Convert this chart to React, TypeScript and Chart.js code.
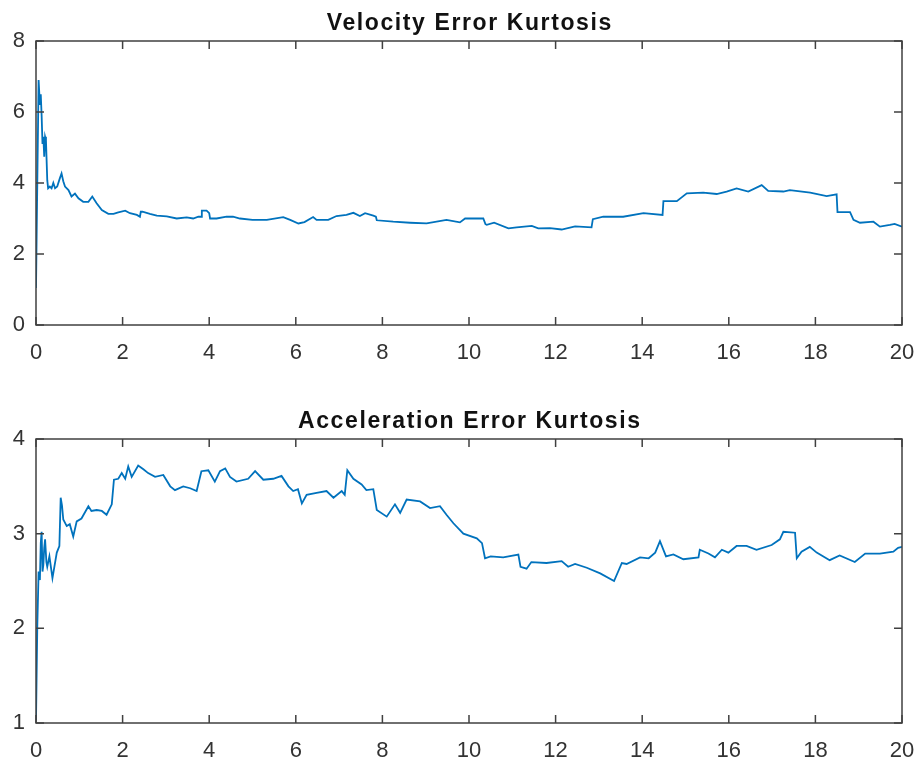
import React, { useEffect, useRef } from "react";
import { Chart, registerables } from "chart.js";

Chart.register(...registerables);

// ---------- data ----------
const xTicks = [0, 2, 4, 6, 8, 10, 12, 14, 16, 18, 20];
const velTicks = [0, 2, 4, 6, 8];
const accTicks = [1, 2, 3, 4];

const velTitle = "Velocity Error Kurtosis";
const accTitle = "Acceleration Error Kurtosis";

const velX = [
  0, 0.03, 0.06, 0.09, 0.11, 0.13, 0.15, 0.17, 0.19, 0.21,
  0.23, 0.26, 0.28, 0.32, 0.36, 0.40, 0.44, 0.49, 0.55, 0.59,
  0.63, 0.67, 0.75, 0.82, 0.90, 0.98, 1.09, 1.21, 1.30, 1.40,
  1.52, 1.67, 1.79, 1.90, 2.06, 2.17, 2.33, 2.40, 2.42, 2.46,
  2.63, 2.79, 3.02, 3.25, 3.48, 3.63, 3.75, 3.82, 3.83, 3.94,
  4.00, 4.02, 4.17, 4.40, 4.55, 4.71, 5.00, 5.33, 5.71, 5.87,
  6.06, 6.20, 6.40, 6.48, 6.75, 6.94, 7.17, 7.33, 7.48, 7.60,
  7.79, 7.85, 7.87, 8.25, 8.64, 9.02, 9.48, 9.79, 9.91, 10.33,
  10.38, 10.41, 10.58, 10.91, 11.10, 11.45, 11.60, 11.87, 12.14, 12.45,
  12.83, 12.86, 13.10, 13.56, 14.03, 14.47, 14.49, 14.80, 15.03, 15.41,
  15.72, 15.95, 16.18, 16.45, 16.76, 16.91, 17.26, 17.41, 17.88, 18.26,
  18.49, 18.51, 18.80, 18.88, 19.03, 19.34, 19.49, 19.72, 19.83, 20,
];
const velY = [
  1.04, 4.0, 6.9, 6.2, 6.5, 5.9, 5.1, 5.3, 4.74, 5.3,
  5.2, 4.08, 3.85, 3.9, 3.85, 4.0, 3.85, 3.9, 4.13, 4.27,
  4.05, 3.9, 3.8, 3.62, 3.7, 3.57, 3.47, 3.47, 3.62, 3.43,
  3.24, 3.13, 3.13, 3.17, 3.22, 3.15, 3.1, 3.05, 3.19, 3.19,
  3.13, 3.08, 3.06, 3.0, 3.03, 3.0, 3.05, 3.05, 3.22, 3.22,
  3.15, 3.0, 3.0, 3.05, 3.05, 3.0, 2.96, 2.96, 3.04, 2.96,
  2.86, 2.9, 3.04, 2.96, 2.96, 3.07, 3.1, 3.16, 3.07, 3.15,
  3.08, 3.05, 2.95, 2.91, 2.88, 2.86, 2.96, 2.89, 3.0, 3.0,
  2.84, 2.82, 2.88, 2.72, 2.75, 2.79, 2.72, 2.73, 2.69, 2.78,
  2.75, 2.98, 3.05, 3.05, 3.15, 3.1, 3.49, 3.49, 3.71, 3.73,
  3.69, 3.76, 3.85, 3.76, 3.94, 3.78, 3.76, 3.8, 3.73, 3.63,
  3.68, 3.18, 3.18, 2.96, 2.88, 2.91, 2.77, 2.82, 2.85, 2.77,
];

const accX = [
  0, 0.03, 0.06, 0.09, 0.11, 0.13, 0.15, 0.17, 0.19, 0.21,
  0.24, 0.26, 0.31, 0.38, 0.48, 0.54, 0.57, 0.60, 0.63, 0.71,
  0.78, 0.86, 0.94, 1.05, 1.21, 1.28, 1.40, 1.52, 1.63, 1.75,
  1.80, 1.90, 1.98, 2.06, 2.13, 2.21, 2.36, 2.48, 2.59, 2.75,
  2.94, 3.10, 3.21, 3.40, 3.56, 3.71, 3.82, 3.98, 4.13, 4.25,
  4.37, 4.48, 4.63, 4.90, 5.06, 5.25, 5.48, 5.67, 5.83, 5.94,
  6.05, 6.14, 6.25, 6.48, 6.71, 6.87, 7.06, 7.13, 7.19, 7.33,
  7.52, 7.63, 7.79, 7.87, 8.10, 8.29, 8.41, 8.56, 8.87, 9.10,
  9.33, 9.48, 9.64, 9.87, 10.18, 10.30, 10.37, 10.50, 10.79, 11.14,
  11.19, 11.33, 11.44, 11.79, 12.14, 12.29, 12.45, 12.72, 13.03, 13.35,
  13.53, 13.64, 13.95, 14.15, 14.30, 14.41, 14.55, 14.72, 14.95, 15.30,
  15.33, 15.53, 15.68, 15.84, 15.99, 16.18, 16.41, 16.64, 16.99, 17.18,
  17.26, 17.53, 17.57, 17.68, 17.87, 18.03, 18.33, 18.56, 18.91, 19.15,
  19.49, 19.80, 19.91, 20,
];
const accY = [
  1.03, 2.02, 2.6, 2.51, 2.9, 3.02, 2.6, 2.67, 2.85, 2.94,
  2.7, 2.65, 2.76, 2.53, 2.8, 2.87, 3.38, 3.3, 3.15, 3.08,
  3.1, 2.97, 3.13, 3.16, 3.29, 3.24, 3.25, 3.24, 3.2, 3.31,
  3.57, 3.58, 3.64, 3.58, 3.71, 3.6, 3.72, 3.68, 3.64, 3.6,
  3.62, 3.5, 3.46, 3.5, 3.48, 3.45, 3.66, 3.67, 3.55, 3.66,
  3.69, 3.6, 3.55, 3.58, 3.66, 3.57, 3.58, 3.61, 3.5, 3.45,
  3.47, 3.32, 3.41, 3.43, 3.45, 3.38, 3.45, 3.41, 3.67, 3.58,
  3.52, 3.46, 3.47, 3.25, 3.18, 3.31, 3.22, 3.36, 3.34, 3.27,
  3.29, 3.2, 3.11, 3.0, 2.95, 2.9, 2.74, 2.76, 2.75, 2.78,
  2.65, 2.63, 2.7, 2.69, 2.71, 2.65, 2.68, 2.64, 2.58, 2.5,
  2.69, 2.68, 2.75, 2.74, 2.8, 2.92, 2.76, 2.78, 2.73, 2.75,
  2.83, 2.79, 2.75, 2.83, 2.8, 2.87, 2.87, 2.83, 2.88, 2.94,
  3.02, 3.01, 2.74, 2.81, 2.86, 2.8, 2.72, 2.77, 2.7, 2.79,
  2.79, 2.81, 2.85, 2.86,
];

// ---------- styling ----------
const FONT = '"Liberation Sans", Arial, Helvetica, sans-serif';
const LINE_COLOR = "#0072BD";
const AXIS_COLOR = "#404040";
const TICK_TEXT = "#333333";

const framePlugin = {
  id: "matlabFrame",
  afterDraw(chart: any, _args: any, opts: any) {
    const { ctx, chartArea: a, scales } = chart;
    ctx.save();
    ctx.strokeStyle = AXIS_COLOR;
    ctx.lineWidth = 1.5;
    ctx.strokeRect(a.left, a.top, a.right - a.left, a.bottom - a.top);
    const L = 8;
    ctx.beginPath();
    scales.x.ticks.forEach((t: any) => {
      const p = scales.x.getPixelForValue(t.value);
      ctx.moveTo(p, a.bottom);
      ctx.lineTo(p, a.bottom - L);
      ctx.moveTo(p, a.top);
      ctx.lineTo(p, a.top + L);
    });
    scales.y.ticks.forEach((t: any) => {
      const p = scales.y.getPixelForValue(t.value);
      ctx.moveTo(a.left, p);
      ctx.lineTo(a.left + L, p);
      ctx.moveTo(a.right, p);
      ctx.lineTo(a.right - L, p);
    });
    ctx.stroke();
    ctx.font = `bold 23px ${FONT}`;
    (ctx as any).letterSpacing = "1.6px";
    ctx.fillStyle = "#111111";
    ctx.textAlign = "center";
    ctx.textBaseline = "alphabetic";
    ctx.fillText(opts.text, (a.left + a.right) / 2 + 0.8, a.top - 11.5);
    ctx.restore();
  },
};

type PanelProps = {
  title: string;
  xs: number[];
  ys: number[];
  yTicks: number[];
  top: number;
  height: number;
  padTop: number;
  xAxisHeight: number;
};

function Panel({ title, xs, ys, yTicks, top, height, padTop, xAxisHeight }: PanelProps) {
  const ref = useRef<HTMLCanvasElement | null>(null);
  useEffect(() => {
    if (!ref.current) return;
    const yMin = yTicks[0];
    const yMax = yTicks[yTicks.length - 1];
    const chart = new Chart(ref.current, {
      type: "line",
      data: {
        datasets: [
          {
            data: xs.map((x, i) => ({ x, y: ys[i] })),
            borderColor: LINE_COLOR,
            borderWidth: 1.8,
            pointRadius: 0,
            tension: 0,
            fill: false,
          },
        ],
      },
      options: {
        responsive: false,
        animation: false,
        devicePixelRatio: 1,
        layout: { padding: { top: padTop, right: 17, left: 0, bottom: 0 } },
        plugins: {
          legend: { display: false },
          tooltip: { enabled: false },
          title: { display: false },
          matlabFrame: { text: title },
        } as any,
        scales: {
          x: {
            type: "linear",
            min: xTicks[0],
            max: xTicks[xTicks.length - 1],
            afterBuildTicks: (s: any) => {
              s.ticks = xTicks.map((v) => ({ value: v }));
            },
            afterFit: (s: any) => {
              s.height = xAxisHeight;
              s.paddingLeft = 0;
              s.paddingRight = 0;
            },
            grid: { display: false, drawTicks: false },
            border: { display: false },
            ticks: {
              font: { family: FONT, size: 22 },
              color: TICK_TEXT,
              padding: 15,
              maxRotation: 0,
              autoSkip: false,
            },
          },
          y: {
            type: "linear",
            min: yMin,
            max: yMax,
            afterBuildTicks: (s: any) => {
              s.ticks = yTicks.map((v) => ({ value: v }));
            },
            afterFit: (s: any) => {
              s.width = 36;
              s.paddingTop = 0;
              s.paddingBottom = 0;
            },
            grid: { display: false, drawTicks: false },
            border: { display: false },
            ticks: {
              font: { family: FONT, size: 22 },
              color: TICK_TEXT,
              padding: 11,
              autoSkip: false,
            },
          },
        },
      },
      plugins: [framePlugin],
    } as any);
    return () => chart.destroy();
  }, []);
  return (
    <canvas
      ref={ref}
      width={919}
      height={height}
      style={{ position: "absolute", left: 0, top, width: 919, height }}
    />
  );
}

export default function App() {
  return (
    <div style={{ position: "absolute", left: 0, top: 0, width: 919, height: 763, background: "#fff" }}>
      <Panel title={velTitle} xs={velX} ys={velY} yTicks={velTicks} top={0} height={380} padTop={41} xAxisHeight={55} />
      <Panel title={accTitle} xs={accX} ys={accY} yTicks={accTicks} top={380} height={383} padTop={59} xAxisHeight={40} />
    </div>
  );
}
